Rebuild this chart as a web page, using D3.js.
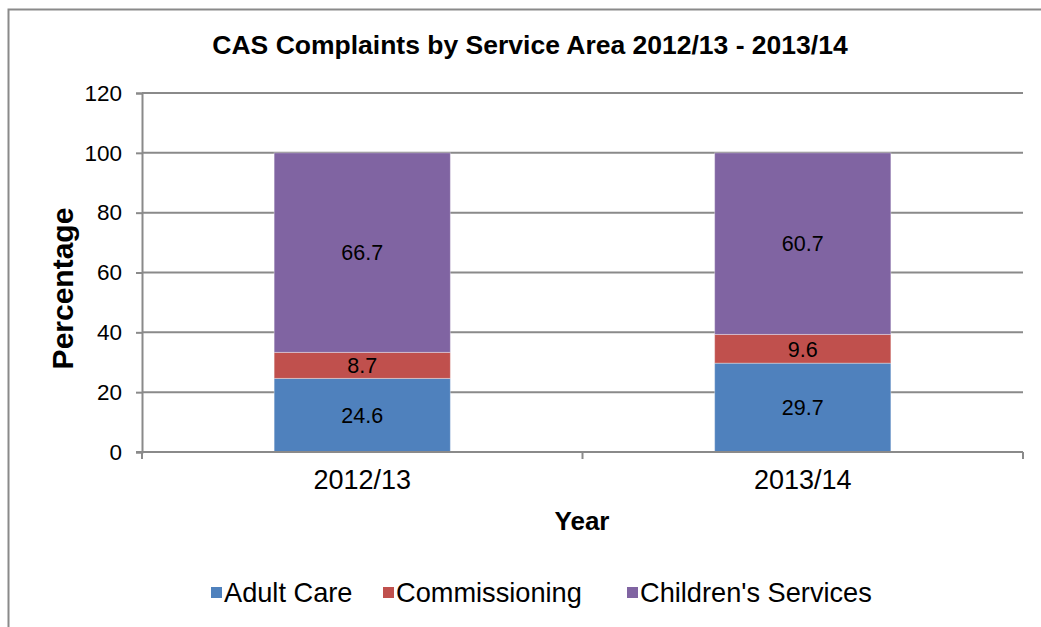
<!DOCTYPE html>
<html>
<head>
<meta charset="utf-8">
<script src="https://cdn.jsdelivr.net/npm/d3@7"></script>
<style>
  html, body { margin: 0; padding: 0; background: #fff; }
  svg { display: block; font-family: Arial, "Liberation Sans", sans-serif; }
</style>
</head>
<body>
<svg id="chart" width="1041" height="627"></svg>
<script>
// Share of CAS complaints by service area (percent of each year's total)
const years = ["2012/13", "2013/14"];
const seriesNames = ["Adult Care", "Commissioning", "Children's Services"];
const adultCare = [24.6, 29.7];
const commissioning = [8.7, 9.6];
const childrensServices = [66.7, 60.7];
const seriesColors = ["#4F81BD", "#C0504D", "#8064A2"];
const yTicks = [0, 20, 40, 60, 80, 100, 120];

const titleText = "CAS Complaints by Service Area 2012/13 - 2013/14";
const xTitle = "Year";
const yTitle = "Percentage";

const svg = d3.select("#chart");
const W = 1041, H = 627;
const plot = { left: 142, right: 1023, top: 93, bottom: 452 };

// outer chart frame (right and bottom edges fall outside the canvas)
svg.append("rect")
  .attr("x", 8.5).attr("y", 9.5)
  .attr("width", W + 40).attr("height", H + 40)
  .attr("fill", "#fff").attr("stroke", "#8a8a8a").attr("stroke-width", 2);

const rows = years.map((y, i) => ({
  year: y,
  "Adult Care": adultCare[i],
  "Commissioning": commissioning[i],
  "Children's Services": childrensServices[i]
}));

const stacked = d3.stack().keys(seriesNames)(rows);

const x = d3.scaleBand().domain(years).range([plot.left, plot.right]).paddingInner(0.6).paddingOuter(0.3);
const xStep = d3.scaleBand().domain(years).range([plot.left, plot.right]);
const y = d3.scaleLinear().domain([0, 120]).range([plot.bottom, plot.top]);

// gridlines
svg.append("g")
  .selectAll("line")
  .data(yTicks.filter(t => t > 0))
  .join("line")
  .attr("x1", plot.left).attr("x2", plot.right)
  .attr("y1", d => y(d)).attr("y2", d => y(d))
  .attr("stroke", "#8a8a8a").attr("stroke-width", 2);

// y axis
const yAxis = svg.append("g")
  .attr("transform", `translate(${plot.left},0)`)
  .call(d3.axisLeft(y).tickValues(yTicks).tickSize(6).tickPadding(14));
yAxis.select(".domain").attr("stroke", "#8a8a8a").attr("stroke-width", 2);
yAxis.selectAll(".tick line").attr("stroke", "#8a8a8a").attr("stroke-width", 2);
yAxis.selectAll(".tick text")
  .attr("font-size", 22.5).attr("fill", "#000")
  .attr("font-family", "Arial, 'Liberation Sans', sans-serif");

// bars
const layers = svg.append("g")
  .selectAll("g")
  .data(stacked)
  .join("g")
  .attr("fill", (d, i) => seriesColors[i]);

layers.selectAll("rect")
  .data(d => d)
  .join("rect")
  .attr("x", d => x(d.data.year))
  .attr("width", x.bandwidth())
  .attr("y", d => y(d[1]))
  .attr("height", d => y(d[0]) - y(d[1]))
  .attr("stroke", "rgba(255,255,255,0.35)")
  .attr("stroke-width", 1);

// value labels centred in each segment
stacked.forEach(layer => {
  svg.append("g")
    .selectAll("text")
    .data(layer)
    .join("text")
    .attr("x", d => x(d.data.year) + x.bandwidth() / 2)
    .attr("y", d => y((d[0] + d[1]) / 2))
    .attr("dy", "0.36em")
    .attr("text-anchor", "middle")
    .attr("font-size", 21.5)
    .attr("fill", "#000")
    .text(d => (d[1] - d[0]).toFixed(1));
});

// x axis with tick marks on category boundaries
const xAxisG = svg.append("g").attr("transform", `translate(0,${plot.bottom})`);
xAxisG.append("line")
  .attr("x1", plot.left - 6).attr("x2", plot.right)
  .attr("stroke", "#8a8a8a").attr("stroke-width", 2);
const boundaries = [plot.left].concat(years.map(yr => xStep(yr) + xStep.bandwidth()));
xAxisG.selectAll("line.tk")
  .data(boundaries)
  .join("line")
  .attr("class", "tk")
  .attr("x1", d => d).attr("x2", d => d)
  .attr("y1", 0).attr("y2", 7)
  .attr("stroke", "#8a8a8a").attr("stroke-width", 2);
xAxisG.selectAll("text")
  .data(years)
  .join("text")
  .attr("x", d => xStep(d) + xStep.bandwidth() / 2)
  .attr("y", 37)
  .attr("text-anchor", "middle")
  .attr("font-size", 27)
  .attr("fill", "#000")
  .text(d => d);

// titles
svg.append("text")
  .attr("x", 530).attr("y", 54)
  .attr("text-anchor", "middle")
  .attr("font-size", 26.5).attr("font-weight", "bold")
  .text(titleText);

svg.append("text")
  .attr("x", 582).attr("y", 530)
  .attr("text-anchor", "middle")
  .attr("font-size", 26).attr("font-weight", "bold")
  .text(xTitle);

svg.append("text")
  .attr("transform", `translate(73,${(plot.top + plot.bottom) / 2 + 16}) rotate(-90)`)
  .attr("text-anchor", "middle")
  .attr("font-size", 30).attr("font-weight", "bold")
  .text(yTitle);

// legend
const legendItems = [
  { name: seriesNames[0], color: seriesColors[0], x: 211 },
  { name: seriesNames[1], color: seriesColors[1], x: 383 },
  { name: seriesNames[2], color: seriesColors[2], x: 627 }
];
const lg = svg.append("g");
legendItems.forEach(it => {
  lg.append("rect")
    .attr("x", it.x).attr("y", 587)
    .attr("width", 11).attr("height", 11)
    .attr("fill", it.color);
  lg.append("text")
    .attr("x", it.x + 13).attr("y", 602)
    .attr("font-size", 27.2).attr("fill", "#000")
    .text(it.name);
});
</script>
</body>
</html>
